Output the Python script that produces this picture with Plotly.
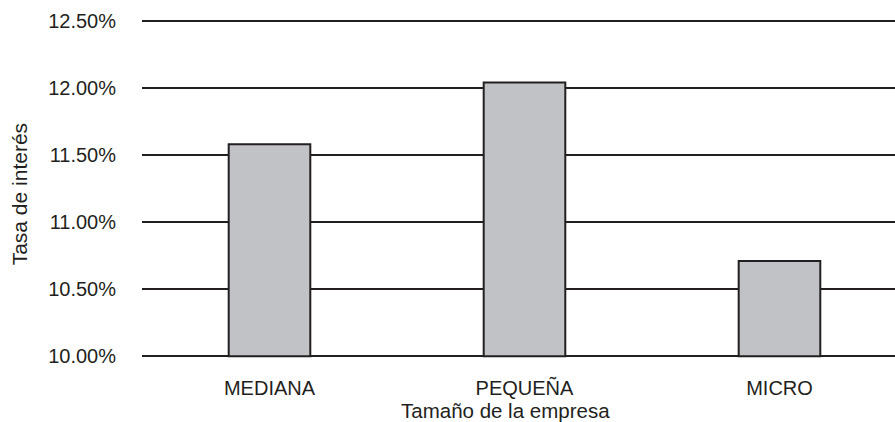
import plotly.graph_objects as go

# Average interest rate by company size (percent)
categories = ["MEDIANA", "PEQUEÑA", "MICRO"]
rates = [11.58, 12.04, 10.71]
y_ticks = [10.0, 10.5, 11.0, 11.5, 12.0, 12.5]
baseline = 10.0

ink = "#231f20"
bar_fill = "#c1c2c6"
font_family = "Liberation Sans, Arial, Helvetica, sans-serif"

# pad the value range slightly so the 10% and 12.5% rules are drawn as grid lines
y_pad = 0.02

fig = go.Figure(
    go.Bar(
        x=categories,
        y=[r - baseline for r in rates],
        base=baseline,
        width=0.32,
        marker=dict(color=bar_fill, line=dict(color=ink, width=2)),
        hovertext=[f"{r:.2f}%" for r in rates],
    )
)

fig.update_layout(
    width=895,
    height=422,
    margin=dict(l=142, r=0, t=18, b=63),
    paper_bgcolor="white",
    plot_bgcolor="white",
    showlegend=False,
    font=dict(family=font_family, size=20, color=ink),
)

fig.update_xaxes(
    range=[-0.5, 2.453],
    showgrid=False,
    showline=False,
    zeroline=False,
    ticks="outside",
    ticklen=11,
    tickcolor="rgba(0,0,0,0)",
    tickfont=dict(size=20),
)

fig.update_yaxes(
    range=[y_ticks[0] - y_pad, y_ticks[-1] + y_pad],
    tickvals=y_ticks,
    ticktext=[f"{v:.2f}%" for v in y_ticks],
    showgrid=True,
    gridcolor=ink,
    gridwidth=2,
    zeroline=False,
    showline=False,
    ticks="outside",
    ticklen=21,
    tickcolor="rgba(0,0,0,0)",
    tickfont=dict(size=20),
)

fig.add_annotation(
    text="Tamaño de la empresa",
    xref="paper", yref="paper",
    x=0.483, y=-0.15,
    showarrow=False,
    font=dict(size=20.5),
    xanchor="center", yanchor="middle",
)
fig.add_annotation(
    text="Tasa de interés",
    xref="paper", yref="paper",
    x=-0.163, y=0.4836,
    textangle=-90,
    showarrow=False,
    font=dict(size=21),
    xanchor="center", yanchor="middle",
)

fig.write_html("out.html")
